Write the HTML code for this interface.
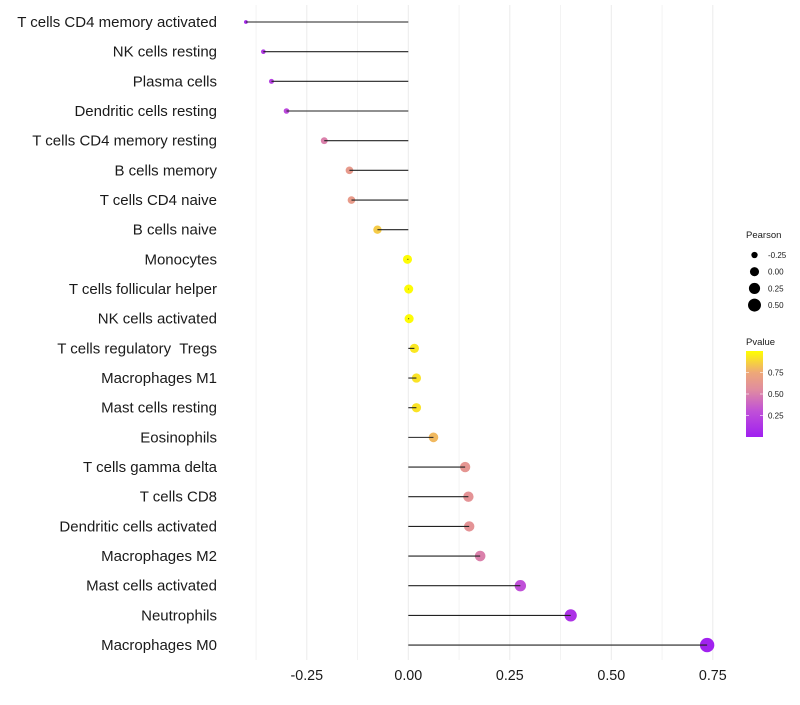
<!DOCTYPE html>
<html><head><meta charset="utf-8"><style>
body{margin:0;background:#fff;width:800px;height:700px;overflow:hidden;font-family:"Liberation Sans",sans-serif}
</style></head><body>
<svg id="chart" width="800" height="700" xmlns="http://www.w3.org/2000/svg">
<defs><linearGradient id="pgrad" x1="0" y1="1" x2="0" y2="0">
<stop offset="0" stop-color="#a020f0"/><stop offset="0.3" stop-color="#c050d8"/><stop offset="0.55" stop-color="#e08ca0"/><stop offset="0.75" stop-color="#eea878"/><stop offset="1" stop-color="#ffff00"/></linearGradient></defs>
<g id="grid"></g><g id="marks"></g><g id="labels"></g><g id="xticks"></g>
<g id="legend"></g>
</svg>
<script>
const categories=["T cells CD4 memory activated","NK cells resting","Plasma cells","Dendritic cells resting","T cells CD4 memory resting","B cells memory","T cells CD4 naive","B cells naive","Monocytes","T cells follicular helper","NK cells activated","T cells regulatory\u00a0 Tregs ","Macrophages M1","Mast cells resting","Eosinophils","T cells gamma delta","T cells CD8","Dendritic cells activated","Macrophages M2","Mast cells activated","Neutrophils","Macrophages M0"];
const pearson=[-0.40,-0.357,-0.337,-0.30,-0.207,-0.145,-0.14,-0.076,-0.002,0.001,0.002,0.015,0.02,0.02,0.062,0.14,0.148,0.15,0.177,0.276,0.40,0.736];
const pvalue=[0.05,0.15,0.2,0.25,0.5,0.65,0.66,0.85,0.99,0.99,0.99,0.93,0.92,0.92,0.8,0.62,0.6,0.6,0.5,0.3,0.12,0.01];
const xTicks=[-0.25,0,0.25,0.5,0.75];
const xTickLabels=["-0.25","0.00","0.25","0.50","0.75"];
const sizeLegend=[-0.25,0,0.25,0.5];
const sizeLegendLabels=["-0.25","0.00","0.25","0.50"];
const pTicks=[0.25,0.5,0.75];
const pTickLabels=["0.25","0.50","0.75"];

const NS="http://www.w3.org/2000/svg";
const x=v=>408.3+v*406;
const y=i=>22+i*29.67;
const pmin=Math.min(...pearson),pmax=Math.max(...pearson);
const rad=v=>1.2*Math.sqrt(2.5+33.5*Math.max(0,(v-pmin)/(pmax-pmin)));
function lerp(a,b,t){return a+(b-a)*t}
const stops=[[0,[160,32,240]],[0.3,[192,80,216]],[0.55,[224,140,160]],[0.75,[238,168,120]],[1,[255,255,0]]];
function col(p){for(let k=1;k<stops.length;k++){if(p<=stops[k][0]){const t=(p-stops[k-1][0])/(stops[k][0]-stops[k-1][0]);const a=stops[k-1][1],b=stops[k][1];return `rgb(${Math.round(lerp(a[0],b[0],t))},${Math.round(lerp(a[1],b[1],t))},${Math.round(lerp(a[2],b[2],t))})`;}}return "rgb(255,255,0)";}
function mk(tag,attrs,parent){const e=document.createElementNS(NS,tag);for(const k in attrs)e.setAttribute(k,attrs[k]);parent.appendChild(e);return e;}
const grid=document.getElementById('grid'),marks=document.getElementById('marks'),labels=document.getElementById('labels'),xt=document.getElementById('xticks'),lg=document.getElementById('legend');
for(let v=-0.375;v<=0.76;v+=0.125){
 const g=mk('line',{x1:x(v),x2:x(v),y1:5,y2:660,stroke:'#ebebeb','stroke-width':Math.abs(v/0.25-Math.round(v/0.25))<1e-6?1:0.6},grid);
 
 
}
categories.forEach((c,i)=>{
 const pt=mk('circle',{cx:x(pearson[i]),cy:y(i),r:rad(pearson[i]),fill:col(pvalue[i])},marks);
 
 
 const ln=mk('line',{x1:x(0),x2:x(pearson[i]),y1:y(i),y2:y(i),stroke:'#222','stroke-width':1.1},marks);
 
 
 const t=mk('text',{x:217,y:y(i)+5,'text-anchor':'end','font-size':15,fill:'#1a1a1a'},labels);
 t.textContent=c;
 
 
});
xTicks.forEach((v,i)=>{
 const t=mk('text',{x:x(v),y:680,'text-anchor':'middle','font-size':14.3,fill:'#1a1a1a'},xt);
 t.textContent=xTickLabels[i];
 
 
});
let tt=mk('text',{x:746,y:238,'font-size':9.5,fill:'#1a1a1a'},lg);tt.textContent='Pearson';


sizeLegend.forEach((v,i)=>{
 const cy=255+i*16.7;
 const c=mk('circle',{cx:754.5,cy:cy,r:rad(v),fill:'#000'},lg);
 
 
 const t=mk('text',{x:768,y:cy+3,'font-size':8,fill:'#1a1a1a'},lg);t.textContent=sizeLegendLabels[i];
 
 
});
tt=mk('text',{x:746,y:345,'font-size':9.5,fill:'#1a1a1a'},lg);tt.textContent='Pvalue';


const cb=mk('rect',{x:746,y:351,width:17,height:86,fill:'url(#pgrad)'},lg);


const py=p=>437-p*86;
pTicks.forEach((p,i)=>{
 mk('line',{x1:746,x2:749,y1:py(p),y2:py(p),stroke:'#fff','stroke-width':0.6},lg);
 mk('line',{x1:760,x2:763,y1:py(p),y2:py(p),stroke:'#fff','stroke-width':0.6},lg);
 const t=mk('text',{x:768,y:py(p)+3,'font-size':8,fill:'#1a1a1a'},lg);t.textContent=pTickLabels[i];
 
 
});
</script>
</body></html>
